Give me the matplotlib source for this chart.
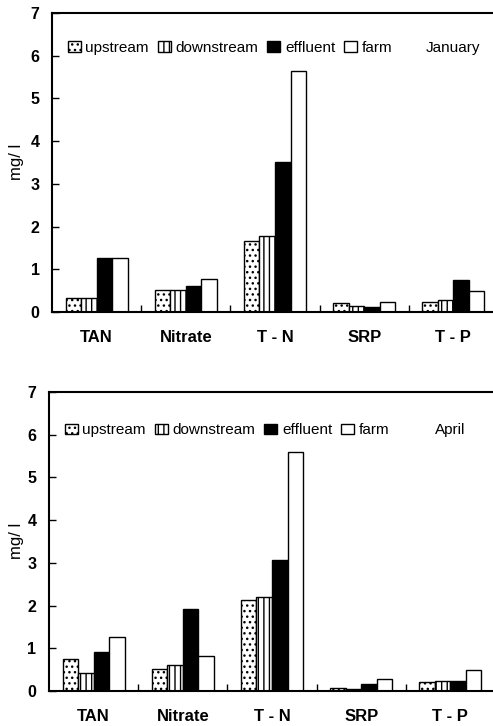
import matplotlib
matplotlib.use("Agg")
import matplotlib.pyplot as plt
import numpy as np

categories = ["TAN", "Nitrate", "T - N", "SRP", "T - P"]
series = ["upstream", "downstream", "effluent", "farm"]

jan_upstream = [0.32, 0.51, 1.67, 0.20, 0.24]
jan_downstream = [0.32, 0.51, 1.79, 0.14, 0.28]
jan_effluent = [1.27, 0.61, 3.52, 0.11, 0.75]
jan_farm = [1.27, 0.78, 5.64, 0.24, 0.49]

apr_upstream = [0.76, 0.51, 2.14, 0.08, 0.20]
apr_downstream = [0.41, 0.62, 2.20, 0.05, 0.23]
apr_effluent = [0.91, 1.92, 3.06, 0.16, 0.23]
apr_farm = [1.27, 0.82, 5.59, 0.28, 0.48]

months = ["January", "April"]
yticks = [0, 1, 2, 3, 4, 5, 6, 7]

styles = {
    "upstream": dict(facecolor="white", hatch="..."),
    "downstream": dict(facecolor="white", hatch="|||"),
    "effluent": dict(facecolor="black", hatch=None),
    "farm": dict(facecolor="white", hatch=None),
}

plt.rcParams["font.family"] = ["Liberation Sans", "DejaVu Sans"]
plt.rcParams["hatch.linewidth"] = 1.0

W, H = 493, 726
fig = plt.figure(figsize=(W / 100, H / 100), dpi=100)

def px_axes(left, top, right, bottom):
    return fig.add_axes([left / W, 1 - bottom / H, (right - left) / W, (bottom - top) / H])

ax_top = px_axes(52, 13, 498, 312)
ax_bot = px_axes(49, 392, 495, 691)

data_sets = [
    (ax_top, [jan_upstream, jan_downstream, jan_effluent, jan_farm], months[0], 6.18),
    (ax_bot, [apr_upstream, apr_downstream, apr_effluent, apr_farm], months[1], 6.1),
]

x = np.arange(len(categories))
bw = 0.174
offsets = [-1.5, -0.5, 0.5, 1.5]

for ax, vals, month, ly in data_sets:
    handles = []
    for name, v, off in zip(series, vals, offsets):
        st = styles[name]
        b = ax.bar(x + off * bw, v, width=bw, facecolor=st["facecolor"],
                   edgecolor="black", linewidth=1.0, hatch=st["hatch"], label=name)
        handles.append(b)
    ax.set_xlim(-0.5, 4.5)
    ax.set_ylim(0, 7)
    ax.set_yticks(yticks)
    ax.set_yticklabels([str(t) for t in yticks], fontweight="bold", fontsize=11.5)
    ax.tick_params(axis="y", direction="in", length=5, width=1, pad=9)
    ax.set_xticks(x)
    ax.set_xticklabels(categories, fontweight="bold", fontsize=12)
    ax.tick_params(axis="x", which="major", length=0, pad=13)
    ax.set_xticks([0.5, 1.5, 2.5, 3.5], minor=True)
    ax.tick_params(axis="x", which="minor", direction="in", length=5, width=1)
    for s in ax.spines.values():
        s.set_linewidth(1.5)
    leg = ax.legend(handles=handles, labels=series, ncol=4, frameon=False,
                    loc="center left", bbox_to_anchor=(0.035, (ly) / 7),
                    borderaxespad=0, borderpad=0, handlelength=0.85, handleheight=0.7,
                    handletextpad=0.3, columnspacing=0.6, fontsize=11)
    ax.text(4, ly, month, ha="center", va="center", fontsize=11)

fig.text(16 / W, 1 - 162 / H, "mg/ l", rotation=90, ha="center", va="center", fontsize=12)
fig.text(16 / W, 1 - 541 / H, "mg/ l", rotation=90, ha="center", va="center", fontsize=12)

fig.savefig("out.png", dpi=100)
